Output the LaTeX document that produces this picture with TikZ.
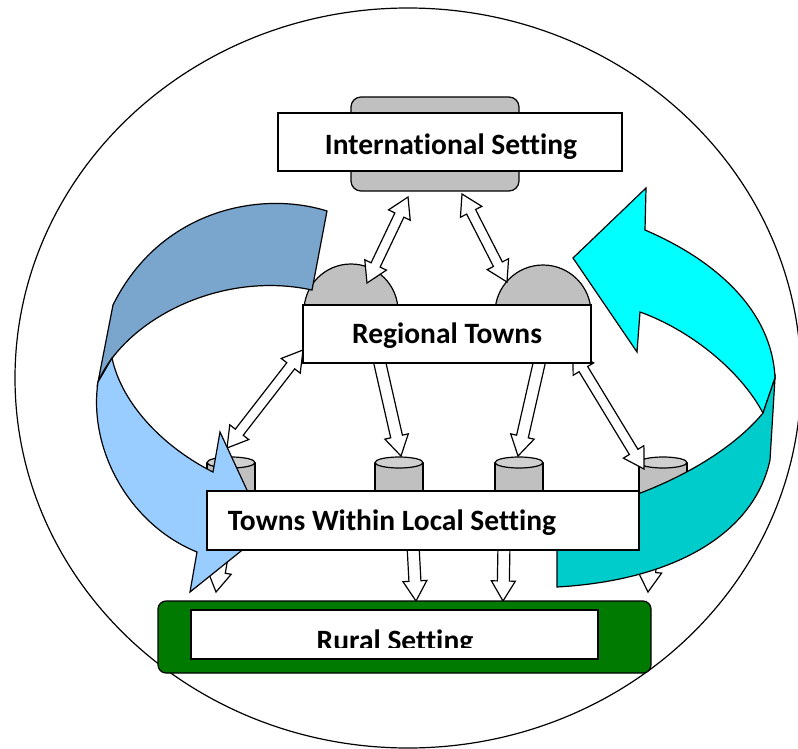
\documentclass[tikz,border=0pt]{standalone}
\usepackage{fontspec}
\setmainfont{Carlito}[Ligatures=NoCommon]
\usetikzlibrary{calc}
\definecolor{boxgray}{RGB}{192,192,192}
\definecolor{cyltop}{RGB}{208,208,208}
\definecolor{darkblue}{RGB}{122,166,206}
\definecolor{lightblue}{RGB}{153,204,255}
\definecolor{cyanA}{RGB}{0,255,255}
\definecolor{tealA}{RGB}{0,204,204}
\definecolor{ruralgreen}{RGB}{0,122,0}
\tikzset{
  lw/.style={line width=1.2pt},
  blockarrow/.style={lw, draw=black, fill=white, line join=miter},
  curvearrow/.style={lw, draw=black, line join=miter},
  wbox/.style={lw, draw=black, fill=white, rectangle, inner sep=0pt},
  lbl/.style={font=\fontsize{29.5}{34}\selectfont\bfseries, inner sep=0pt},
}
\newcommand\dblarrow[2]{%
 \draw[blockarrow] (#1) -- ($(#1)!20pt!(#2)!12pt!90:(#2)$) -- ($(#1)!20pt!(#2)!5pt!90:(#2)$) -- ($(#2)!20pt!(#1)!5pt!-90:(#1)$) -- ($(#2)!20pt!(#1)!12pt!-90:(#1)$) -- (#2) -- ($(#2)!20pt!(#1)!12pt!90:(#1)$) -- ($(#2)!20pt!(#1)!5pt!90:(#1)$) -- ($(#1)!20pt!(#2)!5pt!-90:(#2)$) -- ($(#1)!20pt!(#2)!12pt!-90:(#2)$) -- cycle;}
\newcommand\sglarrow[2]{%
 \draw[blockarrow] ($(#1)!6pt!90:(#2)$) -- ($(#2)!20pt!(#1)!6pt!-90:(#1)$) -- ($(#2)!20pt!(#1)!12pt!-90:(#1)$) -- (#2) -- ($(#2)!20pt!(#1)!12pt!90:(#1)$) -- ($(#2)!20pt!(#1)!6pt!90:(#1)$) -- ($(#1)!6pt!-90:(#2)$) -- cycle;}
\newcommand\cyl[2]{%
 \draw[lw, fill=boxgray] (#2-24,462.5) -- (#2-24,500) -- (#2+24,500) -- (#2+24,462.5);
 \coordinate (#1) at (#2,462.5);
 \draw[lw, fill=cyltop] (#1) ellipse [x radius=24pt, y radius=5.5pt];}
\begin{document}
\begin{tikzpicture}[x=1pt, y=-1pt]
\useasboundingbox (0,0) rectangle (798,749);
% outer ellipse
\draw[lw] (408,378) ellipse [x radius=393pt, y radius=370pt];
% international grey back
\node[lw, draw, fill=boxgray, rounded corners=10pt, minimum width=168pt, minimum height=94pt, inner sep=0pt] (intback) at (435,144) {};
% domes
\draw[lw, fill=boxgray] (351,311) circle [radius=47pt];
\draw[lw, fill=boxgray] (543,313) circle [radius=48pt];
% cylinders
\cyl{c1}{231}
\cyl{c2}{399}
\cyl{c3}{519}
\cyl{c4}{663}
% arrow end coordinates
\coordinate (a1) at (367,283); \coordinate (b1) at (408,197);
\coordinate (a2) at (462,194); \coordinate (b2) at (507,282);
\coordinate (a3) at (303,350); \coordinate (b3) at (227,448);
\coordinate (a4) at (378,355); \coordinate (b4) at (401,456);
\coordinate (a5) at (541,355); \coordinate (b5) at (518,456);
\coordinate (a6) at (573,352); \coordinate (b6) at (644,469);
\coordinate (a7) at (413,545); \coordinate (b7) at (416,601);
\coordinate (a8) at (504,545); \coordinate (b8) at (503,601);
\coordinate (a9) at (224,545); \coordinate (b9) at (216,592);
\coordinate (a10) at (652,545); \coordinate (b10) at (648,592);
\dblarrow{a1}{b1}
\dblarrow{a2}{b2}
\dblarrow{a3}{b3}
\sglarrow{a4}{b4}
\sglarrow{a5}{b5}
\dblarrow{a6}{b6}
\sglarrow{a7}{b7}
\sglarrow{a8}{b8}
\sglarrow{a9}{b9}
\sglarrow{a10}{b10}
% left curved arrow
\draw[curvearrow, fill=darkblue] (327,211) .. controls (260,190) and (160,210) .. (113,305) -- (98,382) .. controls (125,320) and (220,270) .. (312,290) -- cycle;
\draw[curvearrow, fill=lightblue] (98,382) .. controls (88,450) and (130,525) .. (197,552) -- (190,592) -- (266,531) -- (220,432) -- (213,472) .. controls (165,448) and (122,405) .. (112,358) -- cycle;
% right curved arrow
\draw[curvearrow, fill=cyanA] (573,258) -- (646,188) -- (645,230) .. controls (715,260) and (772,310) .. (775,378) -- (763,413) .. controls (740,370) and (690,330) .. (640,312) -- (637,352) -- cycle;
\draw[curvearrow, fill=tealA] (775,378) -- (770,460) .. controls (755,530) and (680,580) .. (557,587) -- (557,515) .. controls (630,505) and (720,465) .. (763,413) -- cycle;
% boxes
\node[wbox, minimum width=344pt, minimum height=58pt] (intl) at (450,142) {};
\node[lbl, anchor=base] (tintl) at (451,154) {International Setting};
\node[wbox, minimum width=288pt, minimum height=58pt] (reg) at (447,334) {};
\node[lbl, anchor=base] (treg) at (447,343) {Regional Towns};
\node[wbox, minimum width=432pt, minimum height=59pt] (towns) at (423,520.5) {};
\node[lbl, anchor=base] (ttowns) at (392,530) {Towns Within Local Setting};
\node[lw, draw, fill=ruralgreen, rounded corners=8pt, minimum width=493pt, minimum height=72pt, inner sep=0pt] (ruralback) at (404.5,637) {};
\node[wbox, minimum width=407pt, minimum height=49pt] (rural) at (394.5,634.5) {};
\begin{scope}
\clip (191,610) rectangle (598,647);
\node[lbl, anchor=base] (trural) at (395,650) {Rural Setting};
\end{scope}
\end{tikzpicture}
\end{document}
